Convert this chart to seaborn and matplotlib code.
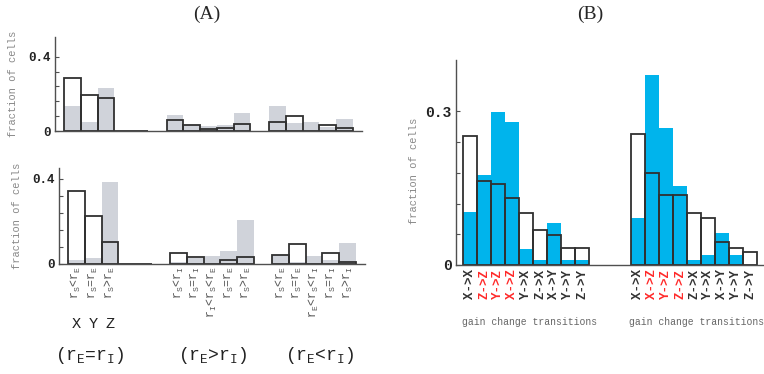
import numpy as np
import pandas as pd
import matplotlib
matplotlib.use("Agg")
import matplotlib.pyplot as plt
import seaborn as sns

# panel A, top row: open bars and grey bars, 3 groups of 5 slots
top_open = [0.286, 0.193, 0.175, 0, 0, 0.061, 0.032, 0.011, 0.018, 0.038, 0.049, 0.081, 0.0, 0.034, 0.018]
top_gray = [0.133, 0.047, 0.230, 0, 0, 0.085, 0.030, 0.029, 0.034, 0.095, 0.137, 0.041, 0.047, 0.022, 0.063]
# panel A, bottom row
bot_open = [0.342, 0.227, 0.104, 0, 0, 0.052, 0.031, 0.0, 0.020, 0.031, 0.041, 0.094, 0.0, 0.052, 0.009]
bot_gray = [0.020, 0.030, 0.384, 0, 0, 0.010, 0.030, 0.039, 0.063, 0.204, 0.041, 0.011, 0.039, 0.020, 0.100]

labels_eq = ['r$_\\mathrm{S}$<r$_\\mathrm{E}$', 'r$_\\mathrm{S}$=r$_\\mathrm{E}$', 'r$_\\mathrm{S}$>r$_\\mathrm{E}$']
labels_gt = ['r$_\\mathrm{S}$<r$_\\mathrm{I}$', 'r$_\\mathrm{S}$=r$_\\mathrm{I}$',
             'r$_\\mathrm{I}$<r$_\\mathrm{S}$<r$_\\mathrm{E}$', 'r$_\\mathrm{S}$=r$_\\mathrm{E}$',
             'r$_\\mathrm{S}$>r$_\\mathrm{E}$']
labels_lt = ['r$_\\mathrm{S}$<r$_\\mathrm{E}$', 'r$_\\mathrm{S}$=r$_\\mathrm{E}$',
             'r$_\\mathrm{E}$<r$_\\mathrm{S}$<r$_\\mathrm{I}$', 'r$_\\mathrm{S}$=r$_\\mathrm{I}$',
             'r$_\\mathrm{S}$>r$_\\mathrm{I}$']
group_titles = ['(r$_\\mathrm{E}$=r$_\\mathrm{I}$)', '(r$_\\mathrm{E}$>r$_\\mathrm{I}$)', '(r$_\\mathrm{E}$<r$_\\mathrm{I}$)']

# panel B: open bars and blue bars, 2 groups of 9 transitions
b_open = [0.251, 0.164, 0.159, 0.130, 0.101, 0.068, 0.058, 0.034, 0.034,
          0.256, 0.179, 0.136, 0.136, 0.101, 0.092, 0.044, 0.034, 0.025]
b_blue = [0.103, 0.175, 0.298, 0.279, 0.031, 0.010, 0.082, 0.010, 0.010,
          0.092, 0.371, 0.267, 0.154, 0.010, 0.019, 0.062, 0.019, 0.0]
b_labels1 = ['X->X', 'Z->Z', 'Y->Z', 'X->Z', 'Y->X', 'Z->X', 'X->Y', 'Y->Y', 'Z->Y']
b_labels2 = ['X->X', 'X->Z', 'Y->Z', 'Z->Z', 'Z->X', 'Y->X', 'X->Y', 'Y->Y', 'Z->Y']

sns.set_style("ticks")
plt.rcParams['font.family'] = ['Liberation Mono', 'DejaVu Sans']
plt.rcParams['mathtext.fontset'] = 'custom'
plt.rcParams['mathtext.rm'] = 'Liberation Mono'
plt.rcParams['mathtext.it'] = 'Liberation Mono'

GRAY = '#d0d3da'
BLUE = '#00b4ec'
EDGE = '#303030'
AX = '#505050'

posA = np.concatenate([np.arange(5) + g * 6.1 for g in range(3)])
posB = np.concatenate([np.arange(9) + g * 12 for g in range(2)])

fig = plt.figure(figsize=(7.64, 3.74), dpi=100)
W, H = 764, 374


def add_ax(l, t, r, b):
    return fig.add_axes([l / W, 1 - b / H, (r - l) / W, (b - t) / H])


def style(ax, ymax, step, lab, fs):
    ticks = np.arange(0, lab + 1e-9, step)
    ax.set_ylim(0, ymax)
    ax.set_yticks(ticks)
    ax.set_yticklabels(['0'] + [''] * (len(ticks) - 2) + [f'{lab:g}'],
                       fontsize=fs, fontweight='bold', color='#222')
    ax.tick_params(axis='y', direction='in', length=3, width=0.8, color=AX, pad=3)
    ax.tick_params(axis='x', length=0)
    for s in ['top', 'right']:
        ax.spines[s].set_visible(False)
    for s in ['left', 'bottom']:
        ax.spines[s].set_color(AX)
        ax.spines[s].set_linewidth(1.0)
    ax.set_xlabel('')
    ax.set_ylabel('fraction of cells', fontsize=7.5, color='#888')


def bars(ax, pos, fill_vals, open_vals, fill_color):
    df = pd.DataFrame({'x': pos, 'fill': fill_vals, 'open': open_vals})
    sns.barplot(data=df, x='x', y='fill', native_scale=True, width=1.0, color=fill_color,
                saturation=1, linewidth=0, errorbar=None, ax=ax)
    sns.barplot(data=df, x='x', y='open', native_scale=True, width=1.0, fill=False, color=EDGE,
                linewidth=1.3, errorbar=None, ax=ax)


# panel A top
ax1 = add_ax(55, 37, 362, 131)
bars(ax1, posA, top_gray, top_open, GRAY)
style(ax1, 0.506, 0.08, 0.4, 9)
ax1.set_xlim(-1.04, 17.24)
ax1.set_xticks([])
ax1.yaxis.set_label_coords(-0.122, 0.5)

# panel A bottom
ax2 = add_ax(59, 168, 365, 264)
bars(ax2, posA, bot_gray, bot_open, GRAY)
style(ax2, 0.45, 0.08, 0.4, 9)
ax2.set_xlim(-1.04, 17.24)
tick_pos = list(posA[:3]) + list(posA[5:])
ax2.set_xticks(tick_pos)
ax2.set_xticklabels(labels_eq + labels_gt + labels_lt, rotation=90, fontsize=8.3, color='#555')
ax2.tick_params(axis='x', pad=2)
ax2.yaxis.set_label_coords(-0.12, 0.5)

for i, ch in enumerate(['X', 'Y', 'Z']):
    x_disp = ax2.transData.transform((posA[i], 0))[0]
    fig.text(x_disp / W, 1 - 324 / H, ch, ha='center', va='center', fontsize=11, color='#222')
for x, t in zip([90, 213, 320], group_titles):
    fig.text(x / W, 1 - 355 / H, t, ha='center', va='center', fontsize=13, color='#222')

# panel B
ax3 = add_ax(456, 60, 764, 265)
bars(ax3, posB, b_blue, b_open, BLUE)
style(ax3, 0.40, 0.06, 0.3, 10.5)
ax3.set_xlim(-1.0, 21.0)
ax3.set_xticks(posB)
ax3.set_xticklabels(b_labels1 + b_labels2, rotation=90, fontsize=9, fontweight='bold')
for i, t in enumerate(ax3.get_xticklabels()):
    t.set_color('#ff2a2a' if i % 9 in (1, 2, 3) else '#333')
ax3.tick_params(axis='x', pad=3)
ax3.yaxis.set_label_coords(-0.12, 0.46)

for x in [530, 697]:
    fig.text(x / W, 1 - 322 / H, 'gain change transitions', ha='center', va='center',
             fontsize=7, color='#666')

fig.text(207 / W, 1 - 14 / H, '(A)', ha='center', va='center', fontsize=14,
         family='Liberation Serif')
fig.text(590 / W, 1 - 14 / H, '(B)', ha='center', va='center', fontsize=14,
         family='Liberation Serif')

fig.savefig('out.png', dpi=100)
